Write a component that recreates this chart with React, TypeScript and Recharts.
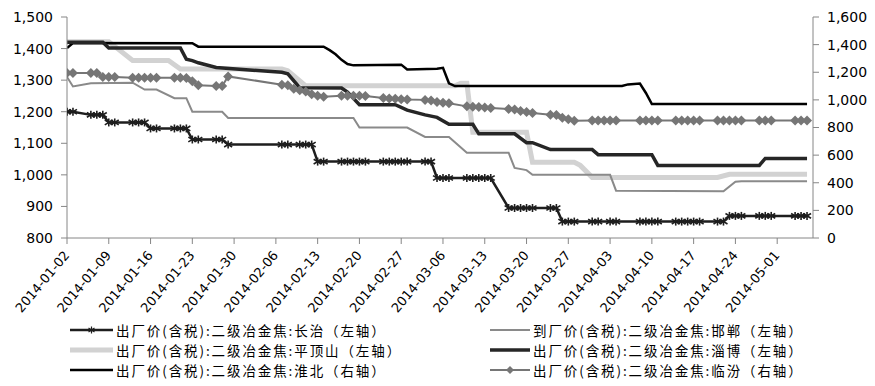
import React from "react";
import { LineChart, Line, XAxis, YAxis } from "recharts";

type Pt = [number, number];

// x = calendar days after 2014-01-02
const tickDays = [0, 7, 14, 21, 28, 35, 42, 49, 56, 63, 70, 77, 84, 91, 98, 105, 112, 119];
const leftTicks = [800, 900, 1000, 1100, 1200, 1300, 1400, 1500];
const rightTicks = [0, 200, 400, 600, 800, 1000, 1200, 1400, 1600];

// 出厂价(含税):二级冶金焦:长治 (left axis)
const changzhi: Pt[] = [
  [0, 1200], [1, 1200], [4, 1190], [5, 1190], [6, 1190],
  [7, 1166], [8, 1166], [11, 1166], [12, 1166], [13, 1166],
  [14, 1147], [15, 1147], [18, 1147], [19, 1147], [20, 1147],
  [21, 1112], [22, 1112], [25, 1112], [26, 1112], [27, 1096],
  [36, 1096], [37, 1096], [39, 1096], [40, 1096], [41, 1096],
  [42, 1042], [43, 1042], [46, 1042], [47, 1042], [48, 1042], [49, 1042], [50, 1042],
  [53, 1042], [54, 1042], [55, 1042], [56, 1042], [57, 1042], [60, 1042], [61, 1042],
  [62, 990], [63, 990], [64, 990], [67, 990], [68, 990], [69, 990], [70, 990], [71, 990],
  [74, 895], [75, 895], [76, 895], [77, 895], [78, 895], [81, 895], [82, 895],
  [83, 852], [84, 852], [85, 852], [88, 852], [89, 852], [91, 852], [92, 852],
  [96, 852], [97, 852], [98, 852], [99, 852], [102, 852], [103, 852], [104, 852],
  [105, 852], [106, 852], [109, 852], [110, 852],
  [111, 870], [112, 870], [113, 870], [116, 870], [117, 870], [118, 870],
  [122, 870], [123, 870], [124, 870],
];

// 到厂价(含税):二级冶金焦:邯郸 (left axis)
const handan: Pt[] = [
  [0, 1310], [1, 1280], [4, 1290], [11, 1292], [13, 1270], [15, 1270],
  [18, 1243], [20, 1243], [21, 1200], [26, 1200], [27, 1180], [48, 1180],
  [49, 1150], [57, 1150], [60, 1120], [64, 1120], [67, 1070], [74, 1070],
  [75, 1022], [77, 1015], [78, 1000], [91, 1000], [92, 950], [110, 948],
  [112, 978], [113, 980], [124, 980],
];

// 出厂价(含税):二级冶金焦:平顶山 (left axis)
const pingdingshan: Pt[] = [
  [0, 1422], [7, 1422], [11, 1362], [17, 1362], [19, 1335], [36, 1335],
  [37, 1330], [40, 1282], [65, 1282], [66, 1290], [67, 1290], [68, 1135],
  [77, 1135], [78, 1040], [85, 1040], [86, 1030], [88, 992], [109, 992],
  [111, 1002], [124, 1002],
];

// 出厂价(含税):二级冶金焦:淄博 (left axis)
const zibo: Pt[] = [
  [0, 1420], [6, 1420], [7, 1402], [19, 1402], [20, 1366], [21, 1362],
  [22, 1355], [25, 1340], [36, 1325], [37, 1320], [39, 1276], [46, 1275],
  [47, 1262], [49, 1222], [55, 1222], [57, 1205], [60, 1190], [62, 1182],
  [64, 1160], [68, 1160], [69, 1130], [75, 1130], [77, 1102], [78, 1102],
  [81, 1080], [88, 1080], [89, 1064], [98, 1064], [99, 1030], [116, 1030],
  [117, 1052], [124, 1052],
];

// 出厂价(含税):二级冶金焦:淮北 (right axis)
const huaibei: Pt[] = [
  [0, 1375], [1, 1412], [21, 1410], [22, 1385], [43, 1385], [44, 1360],
  [45, 1330], [46, 1290], [47, 1260], [48, 1250], [56, 1255], [57, 1220],
  [62, 1225], [63, 1232], [64, 1120], [65, 1100], [93, 1100], [94, 1112],
  [96, 1118], [97, 1050], [98, 970], [124, 970],
];

// 出厂价(含税):二级冶金焦:临汾 (right axis)
const linfen: Pt[] = [
  [0, 1195], [1, 1195], [4, 1195], [5, 1195], [6, 1165], [7, 1165], [8, 1165],
  [11, 1160], [12, 1160], [13, 1160], [14, 1160], [15, 1160], [18, 1160],
  [19, 1160], [20, 1158], [21, 1135], [22, 1105], [25, 1100], [26, 1100],
  [27, 1170], [36, 1110], [37, 1105], [38, 1080], [39, 1070], [40, 1060],
  [41, 1040], [42, 1030], [43, 1022], [46, 1030], [47, 1030], [48, 1030],
  [49, 1030], [50, 1028], [53, 1013], [54, 1010], [55, 1008], [56, 1005],
  [57, 1002], [60, 1000], [61, 995], [62, 985], [63, 980], [64, 975],
  [67, 953], [68, 950], [69, 948], [70, 945], [71, 941], [74, 934], [75, 930],
  [76, 920], [77, 912], [78, 905], [81, 893], [82, 890], [83, 870], [84, 860],
  [85, 848], [88, 850], [89, 850], [90, 850], [91, 850], [92, 850], [96, 850],
  [97, 850], [98, 850], [99, 850], [102, 850], [103, 850], [104, 850],
  [105, 850], [106, 850], [109, 850], [110, 850], [111, 850], [112, 850],
  [113, 850], [116, 850], [117, 850], [118, 850], [122, 850], [123, 850],
  [124, 850],
];

const START = Date.UTC(2014, 0, 2);
const dayLabel = (d: number) =>
  new Date(START + d * 86400000).toISOString().slice(0, 10);
const toRows = (pts: Pt[]) => pts.map(([day, price]) => ({ day, price }));
const withComma = (v: number) => v.toLocaleString("en-US");

const AXIS = "#868686";
const FONT = "'DejaVu Sans', sans-serif";

const StarDot = (p: any) => {
  const { cx, cy, index } = p;
  if (cx == null || cy == null) return null;
  const r = 4;
  return (
    <g key={`s${index}`} stroke="#1e1e1e" strokeWidth={1.6}>
      <line x1={cx} y1={cy - r} x2={cx} y2={cy + r} />
      <line x1={cx - r} y1={cy - r * 0.6} x2={cx + r} y2={cy + r * 0.6} />
      <line x1={cx - r} y1={cy + r * 0.6} x2={cx + r} y2={cy - r * 0.6} />
    </g>
  );
};

const DiamondDot = (p: any) => {
  const { cx, cy, index } = p;
  if (cx == null || cy == null) return null;
  const r = 5;
  return (
    <polygon
      key={`d${index}`}
      points={`${cx},${cy - r} ${cx + r},${cy} ${cx},${cy + r} ${cx - r},${cy}`}
      fill="#767676"
    />
  );
};

const DateTick = (props: any) => {
  const { x, y, payload } = props;
  return (
    <text
      x={x}
      y={y}
      dy={4}
      textAnchor="end"
      transform={`rotate(-50 ${x} ${y})`}
      fontSize={13}
      fontFamily={FONT}
      fill="#000"
    >
      {dayLabel(payload.value)}
    </text>
  );
};

type LegendItem = { name: string; color: string; width: number; marker?: "star" | "diamond" };

const legendLeft: LegendItem[] = [
  { name: "出厂价(含税):二级冶金焦:长治（左轴）", color: "#1e1e1e", width: 2.5, marker: "star" },
  { name: "出厂价(含税):二级冶金焦:平顶山（左轴）", color: "#d2d2d2", width: 5 },
  { name: "出厂价(含税):二级冶金焦:淮北（右轴）", color: "#000", width: 2.5 },
];
const legendRight: LegendItem[] = [
  { name: "到厂价(含税):二级冶金焦:邯郸（左轴）", color: "#8a8a8a", width: 2 },
  { name: "出厂价(含税):二级冶金焦:淄博（左轴）", color: "#262626", width: 3.5 },
  { name: "出厂价(含税):二级冶金焦:临汾（右轴）", color: "#767676", width: 2, marker: "diamond" },
];

function LegendRow({ item, x, y, iconW }: { item: LegendItem; x: number; y: number; iconW: number }) {
  const mid = iconW / 2;
  return (
    <div style={{ position: "absolute", left: x, top: y - 9, height: 18, display: "flex", alignItems: "center", whiteSpace: "nowrap" }}>
      <svg width={iconW} height={12} style={{ marginRight: 3, flex: "none" }}>
        <line x1={0} y1={6} x2={iconW} y2={6} stroke={item.color} strokeWidth={item.width} />
        {item.marker === "star" && (
          <g stroke="#1e1e1e" strokeWidth={1.2}>
            <line x1={mid} y1={2.5} x2={mid} y2={9.5} />
            <line x1={mid - 3} y1={4} x2={mid + 3} y2={8} />
            <line x1={mid - 3} y1={8} x2={mid + 3} y2={4} />
          </g>
        )}
        {item.marker === "diamond" && (
          <polygon points={`${mid},2 ${mid + 4},6 ${mid},10 ${mid - 4},6`} fill="#767676" />
        )}
      </svg>
      <span
        style={{
          fontFamily: "'Noto Sans CJK SC', sans-serif",
          fontSize: 13.5,
          letterSpacing: 1.9,
          color: "#000",
          lineHeight: "18px",
        }}
      >
        {item.name}
      </span>
    </div>
  );
}

export default function App() {
  const rowY = [330.4, 350, 369.6];
  return (
    <div style={{ position: "absolute", left: 0, top: 0, width: 875, height: 386, background: "#fff" }}>
      <LineChart
        width={875}
        height={386}
        margin={{ top: 17, right: 2, bottom: 78, left: 7 }}
        style={{ fontFamily: FONT }}
      >
        <XAxis
          type="number"
          dataKey="day"
          domain={[0, 125]}
          ticks={tickDays}
          tick={<DateTick />}
          tickSize={6}
          tickMargin={9}
          stroke={AXIS}
          height={70}
          allowDataOverflow
        />
        <YAxis
          yAxisId="left"
          domain={[800, 1500]}
          ticks={leftTicks}
          tickFormatter={withComma}
          width={60}
          tickSize={6}
          tickMargin={8}
          stroke={AXIS}
          tick={{ fill: "#000", fontSize: 14, fontFamily: FONT }}
          allowDataOverflow
        />
        <YAxis
          yAxisId="right"
          orientation="right"
          domain={[0, 1600]}
          ticks={rightTicks}
          tickFormatter={withComma}
          width={60}
          tickSize={6}
          tickMargin={8}
          stroke={AXIS}
          tick={{ fill: "#000", fontSize: 14, fontFamily: FONT }}
          allowDataOverflow
        />
        <Line yAxisId="left" data={toRows(pingdingshan)} dataKey="price" name="平顶山" type="linear"
          stroke="#d2d2d2" strokeWidth={5} dot={false} isAnimationActive={false} />
        <Line yAxisId="right" data={toRows(huaibei)} dataKey="price" name="淮北" type="linear"
          stroke="#000" strokeWidth={2.5} dot={false} isAnimationActive={false} />
        <Line yAxisId="left" data={toRows(handan)} dataKey="price" name="邯郸" type="linear"
          stroke="#8a8a8a" strokeWidth={2} dot={false} isAnimationActive={false} />
        <Line yAxisId="left" data={toRows(zibo)} dataKey="price" name="淄博" type="linear"
          stroke="#262626" strokeWidth={3.5} dot={false} isAnimationActive={false} />
        <Line yAxisId="right" data={toRows(linfen)} dataKey="price" name="临汾" type="linear"
          stroke="#767676" strokeWidth={2} dot={DiamondDot} isAnimationActive={false} />
        <Line yAxisId="left" data={toRows(changzhi)} dataKey="price" name="长治" type="linear"
          stroke="#1e1e1e" strokeWidth={2.5} dot={StarDot} isAnimationActive={false} />
      </LineChart>
      {legendLeft.map((it, i) => (
        <LegendRow key={`l${i}`} item={it} x={70} y={rowY[i]} iconW={43} />
      ))}
      {legendRight.map((it, i) => (
        <LegendRow key={`r${i}`} item={it} x={490} y={rowY[i]} iconW={40} />
      ))}
    </div>
  );
}
